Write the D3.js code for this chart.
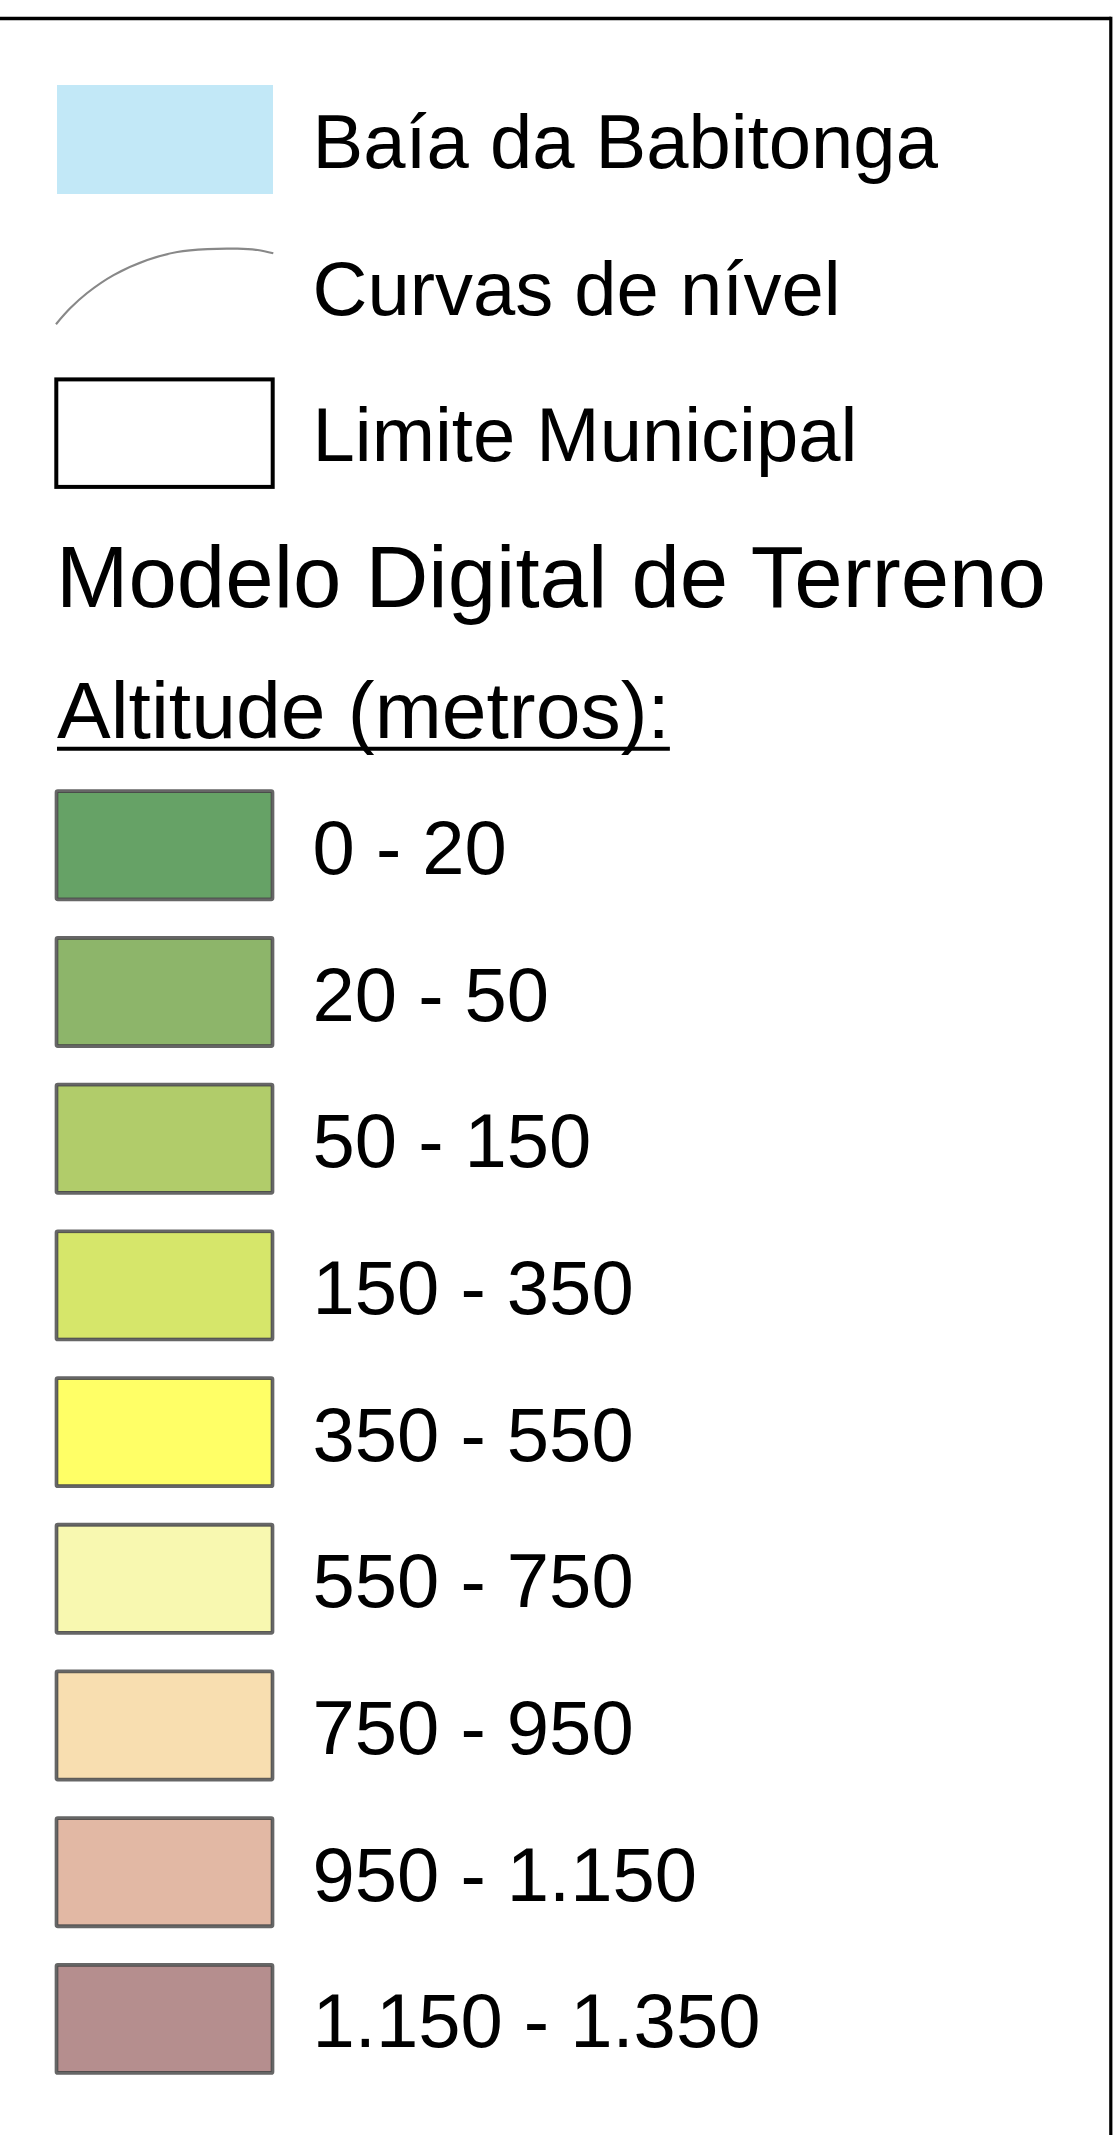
<!DOCTYPE html>
<html>
<head>
<meta charset="utf-8">
<script src="https://cdn.jsdelivr.net/npm/d3@7"></script>
<style>
  html, body { margin: 0; padding: 0; background: #fff; }
  svg { display: block; }
  text { font-family: "Liberation Sans", Arial, Helvetica, sans-serif; fill: #000; }
</style>
</head>
<body>
<script>
// ---- data ----
const featureLabels = ["Baía da Babitonga", "Curvas de nível", "Limite Municipal"];
const featureTypes  = ["fill", "line", "outline"];
const featureColors = ["#c2e8f7", "#888888", "#000000"];

const sectionTitle = "Modelo Digital de Terreno";
const legendSubtitle = "Altitude (metros):";

const altitudeClasses = ["0 - 20", "20 - 50", "50 - 150", "150 - 350", "350 - 550",
                         "550 - 750", "750 - 950", "950 - 1.150", "1.150 - 1.350"];
const altitudeColors  = ["#66a266", "#8db56a", "#b1cc6a", "#d6e66a", "#ffff66",
                         "#f8f8b0", "#f8deb0", "#e2b8a4", "#b58e8e"];

// contour-line sample symbol, in unit coordinates of the symbol box
const contourSample = [[0,1],[0.065,0.79],[0.142,0.59],[0.265,0.35],[0.42,0.15],
                       [0.558,0.044],[0.697,0.005],[0.835,0.0],[0.928,0.017],[1,0.061]];

// ---- layout ----
const W = 1113, H = 2135;
const svg = d3.select("body").append("svg").attr("width", W).attr("height", H);

// frame (top and right edges only visible)
svg.append("line").attr("x1", 0).attr("x2", 1111).attr("y1", 18.5).attr("y2", 18.5)
   .attr("stroke", "#000").attr("stroke-width", 3.5);
svg.append("line").attr("x1", 1110.8).attr("x2", 1110.8).attr("y1", 16.75).attr("y2", H)
   .attr("stroke", "#000").attr("stroke-width", 3.2);

const symX = 56.3, symW = 216.4, symH = 108.6, textX = 312.5, fs = 76;
const rowStep = 146.7;

// feature rows
const yFeat = d3.scaleLinear().domain([0, 1]).range([139.5, 139.5 + rowStep]);
const feat = svg.selectAll("g.feat").data(featureLabels).join("g")
  .attr("class", "feat")
  .attr("transform", (d, i) => `translate(0,${yFeat(i)})`);

feat.each(function(d, i) {
  const g = d3.select(this);
  const t = featureTypes[i];
  if (t === "fill") {
    g.append("rect").attr("x", symX + 0.7).attr("y", -54.5).attr("width", 216).attr("height", 109)
     .attr("fill", featureColors[i]);
  } else if (t === "line") {
    const sx = d3.scaleLinear().domain([0, 1]).range([56, 273.3]);
    const sy = d3.scaleLinear().domain([0, 1]).range([-37.5, 38]);
    g.append("path")
     .attr("d", d3.line().x(p => sx(p[0])).y(p => sy(p[1])).curve(d3.curveCatmullRom)(contourSample))
     .attr("fill", "none").attr("stroke", featureColors[i]).attr("stroke-width", 2.2);
  } else {
    g.append("rect").attr("x", symX).attr("y", -53.5).attr("width", symW).attr("height", 107.5)
     .attr("fill", "#fff").attr("stroke", featureColors[i]).attr("stroke-width", 4);
  }
  g.append("text").attr("x", textX).attr("y", 28.5).attr("font-size", fs).text(d);
});

// section title
svg.append("text").attr("x", 56).attr("y", 607).attr("font-size", 87).text(sectionTitle);

// subtitle with underline
const sub = svg.append("text").attr("x", 57).attr("y", 738).attr("font-size", 80.5).text(legendSubtitle);
const subLen = sub.node().getComputedTextLength();
svg.append("line").attr("x1", 57).attr("x2", 57 + subLen).attr("y1", 748.7).attr("y2", 748.7)
   .attr("stroke", "#000").attr("stroke-width", 4);

// altitude classes
const yAlt = d3.scaleLinear().domain([0, 1]).range([845.3, 845.3 + rowStep]);
const alt = svg.selectAll("g.alt").data(altitudeClasses).join("g")
  .attr("class", "alt")
  .attr("transform", (d, i) => `translate(0,${yAlt(i)})`);

alt.append("rect")
   .attr("x", symX).attr("y", -symH / 2).attr("width", symW).attr("height", symH)
   .attr("rx", 1.5)
   .attr("fill", (d, i) => altitudeColors[i])
   .attr("stroke", "#666").attr("stroke-width", 3.3);
alt.append("rect")
   .attr("x", symX + 1.6).attr("y", -symH / 2 + 1.6).attr("width", symW - 3.2).attr("height", symH - 3.2)
   .attr("fill", "none").attr("stroke", "#444").attr("stroke-width", 0.8);
alt.append("text").attr("x", textX).attr("y", 28.5).attr("font-size", fs).text(d => d);
</script>
</body>
</html>
